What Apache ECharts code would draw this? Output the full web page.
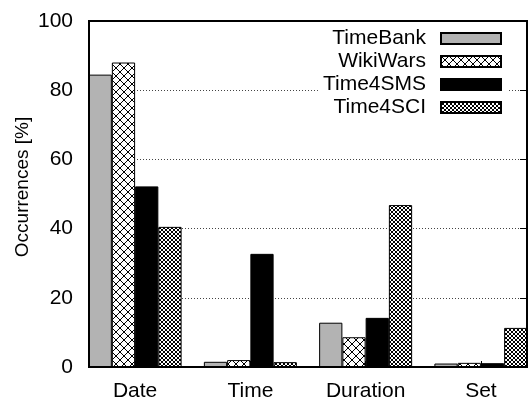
<!DOCTYPE html>
<html><head><meta charset="utf-8">
<script src="https://cdn.jsdelivr.net/npm/echarts@6/dist/echarts.min.js"></script>
<style>html,body{margin:0;padding:0;background:#fff}#c{width:528px;height:398px}</style>
</head><body><div id="c"></div>
<script>
const categories = ['Date', 'Time', 'Duration', 'Set'];
const seriesNames = ['TimeBank', 'WikiWars', 'Time4SMS', 'Time4SCI'];
const timeBank = [84.5, 1.5, 12.8, 1.0];
const wikiWars = [88.0, 2.0, 8.6, 1.2];
const time4SMS = [52.2, 32.7, 14.2, 1.1];
const time4SCI = [40.5, 1.4, 46.8, 11.3];
const yTicks = [0, 20, 40, 60, 80, 100];

const FONT = "'Liberation Sans', Arial, Helvetica, sans-serif";

function hatch(period, lw) {
  const c = document.createElement('canvas');
  c.width = period; c.height = period;
  const g = c.getContext('2d');
  g.fillStyle = '#fff'; g.fillRect(0, 0, period, period);
  g.strokeStyle = '#000'; g.lineWidth = lw;
  g.beginPath();
  g.moveTo(-1, -1); g.lineTo(period + 1, period + 1);
  g.moveTo(period + 1, -1); g.lineTo(-1, period + 1);
  g.stroke();
  return c;
}
const fills = [
  '#b3b3b3',
  { image: hatch(8, 1), repeat: 'repeat' },
  '#000000',
  { image: hatch(4, 1), repeat: 'repeat' }
];
const values = [timeBank, wikiWars, time4SMS, time4SCI];

const chart = echarts.init(document.getElementById('c'), null, { renderer: 'canvas' });
chart.setOption({
  animation: false,
  textStyle: { fontFamily: FONT },
  grid: { left: 89, right: 1, top: 21, bottom: 31, show: true, z: 5,
          outerBoundsMode: 'none', containLabel: false,
          backgroundColor: 'transparent', borderColor: '#000', borderWidth: 2 },
  legend: {
    data: seriesNames, orient: 'vertical', align: 'right',
    right: 21, top: 23, itemWidth: 60, itemHeight: 11, itemGap: 2,
    padding: 5, backgroundColor: '#fff', icon: 'rect',
    textStyle: { fontSize: 21, color: '#000', fontFamily: FONT, padding: [0, 10, 0, 0] }
  },
  xAxis: {
    type: 'value', min: -0.4, max: 3.4,
    axisLine: { show: true, onZero: false, lineStyle: { color: '#000', width: 2 } },
    splitLine: { show: false },
    axisTick: { show: true, inside: true, length: 6, customValues: [0, 1, 2, 3], lineStyle: { color: '#000' } },
    axisLabel: { customValues: [0, 1, 2, 3], formatter: v => categories[Math.round(v)],
                 fontSize: 21, color: '#000', margin: 14, fontFamily: FONT }
  },
  yAxis: [{
    type: 'value', min: 0, max: 100, interval: 20,
    name: 'Occurrences [%]', nameLocation: 'middle', nameGap: 57, nameMoveOverlap: false,
    nameTextStyle: { fontSize: 19, color: '#000', fontFamily: FONT, padding: [0, 0, 0, 14] },
    axisLine: { show: true, onZero: false, lineStyle: { color: '#000', width: 2 } },
    axisTick: { show: true, inside: true, length: 7, lineStyle: { color: '#000' } },
    axisLabel: { fontSize: 21, color: '#000', margin: 16, fontFamily: FONT },
    splitLine: { show: true, lineStyle: { color: '#444', type: [1, 2], width: 1 } }
  }, {
    type: 'value', min: 0, max: 100, interval: 20, position: 'right',
    axisLine: { show: true, onZero: false, lineStyle: { color: '#000', width: 2 } },
    axisTick: { show: true, inside: true, length: 7, lineStyle: { color: '#000' } },
    axisLabel: { show: false }, splitLine: { show: false }
  }],
  series: seriesNames.map((name, si) => ({
    name, type: 'bar', barWidth: 23.25, barGap: '0%',
    itemStyle: { color: fills[si], borderColor: '#000', borderWidth: 1 },
    data: values[si].map((v, i) => [i, v])
  }))
});
</script></body></html>
